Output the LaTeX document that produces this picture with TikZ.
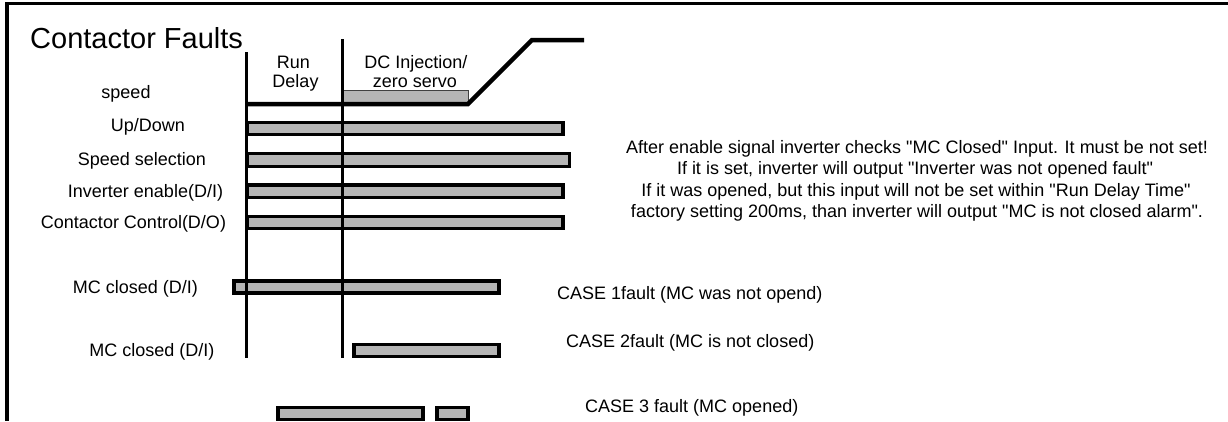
\documentclass[tikz,border=0pt]{standalone}
\usepackage{fontspec}
\setmainfont{Liberation Sans}[Ligatures=TeXOff]
\begin{document}
\begin{tikzpicture}[x=1pt,y=-1pt,
  lbl/.style={font=\fontsize{18}{21}\selectfont, inner sep=0pt, anchor=base},
  lblw/.style={lbl, anchor=base west},
  bar/.style={draw=black, line width=3.2pt, fill=gray!58},
  thinbar/.style={draw=black!75, line width=1pt, fill=gray!58},
  vline/.style={draw=black, line width=3pt},
  sigline/.style={draw=black, line width=4.5pt, line join=miter}]
\useasboundingbox (0,0) rectangle (1228,421);
\fill[white] (0,0) rectangle (1228,421);
% frame
\draw[line width=3pt] (5,3.5) -- (1228,3.5);
\draw[line width=4pt] (7,2) -- (7,421);
% title
\node[lblw, font=\fontsize{29}{32}\selectfont] (title) at (30,48) {Contactor Faults};
% phase headers
\node[lbl] (run) at (293.5,68) {Run};
\node[lbl] (delay) at (295.5,87) {Delay};
\node[lbl] (dcinj) at (416,68) {DC Injection/};
\node[lbl] (zero) at (415,87) {zero servo};
% row labels
\node[lbl] (lspeed) at (126,98) {speed};
\node[lbl] (lupdown) at (148,131) {Up/Down};
\node[lbl] (lsel) at (142,165) {Speed selection};
\node[lbl] (linv) at (145.5,197) {Inverter enable(D/I)};
\node[lbl] (lcc) at (133.5,228) {Contactor Control(D/O)};
\node[lbl] (lmc1) at (135.5,293) {MC closed (D/I)};
\node[lbl] (lmc2) at (152,356) {MC closed (D/I)};
% speed signal
\draw[thinbar] (342,90) rectangle (468,102);
\coordinate (s0) at (246,104);
\coordinate (s1) at (468,104);
\coordinate (s2) at (532,40);
\coordinate (s3) at (584,40);
\draw[sigline] (s0) -- (s1) -- (s2) -- (s3);
% bars
\draw[bar] (247,122.5) rectangle (563,134.5);
\draw[bar] (247,153.5) rectangle (569.5,166.5);
\draw[bar] (247,185) rectangle (563,197.5);
\draw[bar] (247,216.5) rectangle (563,228.5);
\draw[bar] (234,281) rectangle (499,293);
\draw[bar] (354,344.5) rectangle (499,356.5);
\draw[bar] (278,407.5) rectangle (423,419.5);
\draw[bar] (437,407.5) rectangle (468,419.5);
% vertical time markers
\coordinate (v1t) at (246.5,52);
\coordinate (v1b) at (246.5,358);
\coordinate (v2t) at (342,39);
\coordinate (v2b) at (342,358);
\draw[vline] (v1t) -- (v1b);
\draw[vline] (v2t) -- (v2b);
% explanation
\node[lbl] (e1) at (917,153) {After enable signal inverter checks "MC Closed" Input. It must be not set!};
\node[lbl] (e2) at (915,174) {If it is set, inverter will output "Inverter was not opened fault"};
\node[lbl] (e3) at (916,196) {If it was opened, but this input will not be set within "Run Delay Time"};
\node[lbl] (e4) at (917,217) {factory setting 200ms, than inverter will output "MC is not closed alarm".};
% cases
\node[lblw] (c1) at (557,299) {CASE 1fault (MC was not opend)};
\node[lblw] (c2) at (566,347) {CASE 2fault (MC is not closed)};
\node[lblw] (c3) at (585,412) {CASE 3 fault (MC opened)};
\end{tikzpicture}
\end{document}
